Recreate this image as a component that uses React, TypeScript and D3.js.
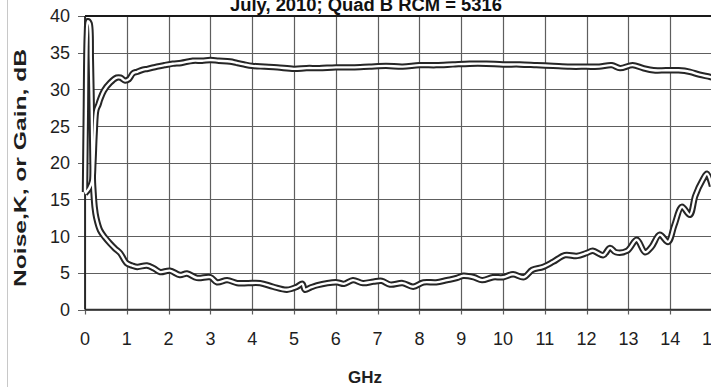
import React, { useEffect, useRef } from 'react';
import * as d3 from 'd3';

const W = 711;
const H = 387;

const title = 'July, 2010; Quad B RCM = 5316';
const xTicks = [0, 1, 2, 3, 4, 5, 6, 7, 8, 9, 10, 11, 12, 13, 14, 15];
const yTicks = [0, 5, 10, 15, 20, 25, 30, 35, 40];

// gain curve (dB)
const gainGHz = [0.0, 0.1, 0.17, 0.2, 0.23, 0.27, 0.32, 0.36, 0.45, 0.6, 0.76, 0.85, 0.96, 1.05, 1.15, 1.25, 1.39, 1.5, 1.72, 1.9, 2.1, 2.3, 2.58, 2.8, 3.0, 3.2, 3.47, 3.63, 3.8, 4.0, 4.3, 4.6, 5.0, 5.3, 5.6, 6.0, 6.4, 6.8, 7.2, 7.6, 8.0, 8.4, 8.8, 9.2, 9.6, 10.0, 10.4, 10.8, 11.2, 11.6, 12.0, 12.3, 12.6, 12.8, 13.1, 13.35, 13.6, 13.9, 14.2, 14.47, 14.7, 14.95, 15.0];
const gainDb = [15.8, 16.5, 17.5, 20, 24, 27.2, 27.9, 28.6, 29.8, 30.9, 31.6, 31.6, 31.2, 31.4, 32.2, 32.4, 32.7, 32.8, 33.1, 33.3, 33.5, 33.6, 33.9, 33.9, 34.0, 33.9, 33.8, 33.6, 33.4, 33.2, 33.1, 33.0, 32.8, 32.9, 32.9, 33.0, 33.0, 33.1, 33.2, 33.1, 33.3, 33.3, 33.4, 33.5, 33.5, 33.4, 33.4, 33.3, 33.2, 33.1, 33.1, 33.1, 33.3, 32.9, 33.3, 32.9, 32.6, 32.6, 32.6, 32.4, 32.0, 31.7, 31.6];

// noise curve (K)
const noiseGHz = [0.0, 0.02, 0.045, 0.07, 0.11, 0.14, 0.165, 0.18, 0.19, 0.2, 0.23, 0.27, 0.36, 0.48, 0.6, 0.72, 0.84, 1.0, 1.12, 1.25, 1.48, 1.65, 1.8, 2.03, 2.27, 2.44, 2.68, 3.0, 3.16, 3.4, 3.64, 3.9, 4.19, 4.5, 4.83, 5.07, 5.2, 5.26, 5.4, 5.55, 5.8, 6.03, 6.2, 6.41, 6.65, 6.9, 7.1, 7.3, 7.6, 7.85, 8.1, 8.4, 8.66, 8.9, 9.05, 9.3, 9.5, 9.76, 10.0, 10.24, 10.5, 10.7, 10.96, 11.2, 11.48, 11.77, 12.0, 12.15, 12.4, 12.56, 12.7, 12.97, 13.2, 13.4, 13.55, 13.75, 13.95, 14.1, 14.28, 14.47, 14.6, 14.78, 14.88, 15.0];
const noiseK = [16.0, 27, 37.5, 39.3, 39, 34, 26, 20, 17.3, 16.3, 14, 12.5, 10.8, 9.8, 9.0, 8.3, 7.7, 6.3, 6.0, 5.8, 6.0, 5.6, 5.1, 5.3, 4.7, 4.9, 4.3, 4.4, 3.7, 4.0, 3.6, 3.6, 3.6, 3.1, 2.7, 3.1, 3.5, 2.7, 3.0, 3.3, 3.6, 3.7, 3.5, 4.0, 3.6, 3.8, 3.9, 3.4, 3.6, 3.1, 3.7, 3.7, 4.0, 4.3, 4.6, 4.4, 4.0, 4.4, 4.4, 4.8, 4.4, 5.4, 5.8, 6.5, 7.4, 7.3, 7.7, 8.0, 7.4, 8.4, 7.8, 8.0, 9.5, 7.8, 8.5, 10.2, 9.2, 11.5, 14.0, 12.9, 15.5, 17.7, 18.5, 16.8];

const font = 'Arial, "Liberation Sans", sans-serif';

export default function App() {
  const svgRef = useRef<SVGSVGElement>(null);

  useEffect(() => {
    if (!svgRef.current) return;
    const svg = d3.select(svgRef.current);
    svg.selectAll('*').remove();

    const x = d3.scaleLinear().domain([0, 15]).range([85, 712]);
    const y = d3.scaleLinear().domain([0, 40]).range([309.5, 16]);

    svg.append('rect').attr('width', W).attr('height', H).attr('fill', '#fff');

    // scan edge
    svg.append('line')
      .attr('x1', 7.5).attr('x2', 7.5).attr('y1', 0).attr('y2', H)
      .attr('stroke', '#c8c8c8').attr('stroke-width', 1);

    // grid
    const grid = svg.append('g').attr('stroke', '#5e5e5e').attr('stroke-width', 1.2);
    grid.selectAll('line.v')
      .data(xTicks)
      .enter()
      .append('line')
      .attr('x1', d => Math.round(x(d)) + 0.5)
      .attr('x2', d => Math.round(x(d)) + 0.5)
      .attr('y1', y(40))
      .attr('y2', y(0) + 5);
    grid.selectAll('line.h')
      .data(yTicks)
      .enter()
      .append('line')
      .attr('x1', x(0) - 7)
      .attr('x2', W)
      .attr('y1', d => Math.round(y(d)) + 0.5)
      .attr('y2', d => Math.round(y(d)) + 0.5);

    // frame lines
    svg.append('line')
      .attr('x1', x(0)).attr('x2', W).attr('y1', y(40)).attr('y2', y(40))
      .attr('stroke', '#1a1a1a').attr('stroke-width', 2);
    svg.append('line')
      .attr('x1', x(0)).attr('x2', W).attr('y1', y(0)).attr('y2', y(0))
      .attr('stroke', '#333').attr('stroke-width', 1.6);
    svg.append('line')
      .attr('x1', x(0)).attr('x2', x(0)).attr('y1', y(40)).attr('y2', y(0))
      .attr('stroke', '#222').attr('stroke-width', 1.8);

    // curves, drawn as hollow double lines
    const line = d3.line<[number, number]>()
      .x(d => x(d[0]))
      .y(d => y(d[1]))
      .curve(d3.curveCatmullRom.alpha(0.5));
    const gain: [number, number][] = gainGHz.map((g, i) => [g, gainDb[i]]);
    const noise: [number, number][] = noiseGHz.map((g, i) => [g, noiseK[i]]);
    const curves = svg.append('g').attr('fill', 'none').attr('stroke-linejoin', 'round');
    [gain, noise].forEach(pts => {
      curves.append('path').attr('d', line(pts)).attr('stroke', '#262626').attr('stroke-width', 6.4);
    });
    [gain, noise].forEach(pts => {
      curves.append('path').attr('d', line(pts)).attr('stroke', '#fff').attr('stroke-width', 2.4);
    });

    // tick labels
    svg.selectAll('text.yt')
      .data(yTicks)
      .enter()
      .append('text')
      .attr('x', 70)
      .attr('y', d => y(d))
      .attr('dy', '0.36em')
      .attr('text-anchor', 'end')
      .attr('font-family', font)
      .attr('font-size', 18)
      .attr('fill', '#1e1e1e')
      .text(d => d);
    svg.selectAll('text.xt')
      .data(xTicks)
      .enter()
      .append('text')
      .attr('x', d => x(d))
      .attr('y', 345)
      .attr('text-anchor', 'middle')
      .attr('font-family', font)
      .attr('font-size', 18)
      .attr('fill', '#1e1e1e')
      .text(d => d);

    // titles
    svg.append('text')
      .attr('x', 365).attr('y', 383)
      .attr('text-anchor', 'middle')
      .attr('font-family', font).attr('font-size', 17).attr('font-weight', 'bold')
      .attr('fill', '#1e1e1e')
      .text('GHz');
    svg.append('text')
      .attr('transform', 'translate(26,168) rotate(-90)')
      .attr('text-anchor', 'middle')
      .attr('font-family', font).attr('font-size', 17).attr('font-weight', 'bold')
      .attr('fill', '#1e1e1e')
      .attr('textLength', 238)
      .attr('lengthAdjust', 'spacingAndGlyphs')
      .text('Noise,K, or Gain, dB');
    svg.append('text')
      .attr('x', 230).attr('y', 10.5)
      .attr('font-family', font).attr('font-size', 17.5).attr('font-weight', 'bold')
      .attr('fill', '#111')
      .attr('textLength', 272)
      .attr('lengthAdjust', 'spacingAndGlyphs')
      .text(title);
  }, []);

  return (
    <svg
      ref={svgRef}
      width={W}
      height={H}
      style={{ position: 'absolute', left: 0, top: 0, display: 'block' }}
    />
  );
}
